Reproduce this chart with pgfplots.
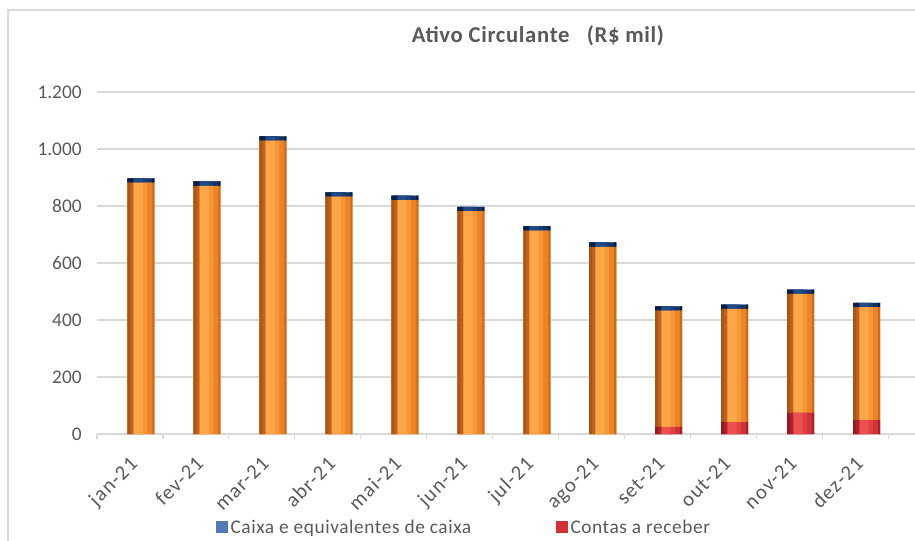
\documentclass[border=0pt]{standalone}
\usepackage{fontspec}
\setmainfont{Carlito}
\usepackage{pgfplots}
\usepackage{pgfplotstable}
\pgfplotsset{compat=1.18}

\definecolor{txt}{RGB}{89,89,89}
\definecolor{gridc}{RGB}{217,217,217}
\definecolor{orD}{RGB}{170,85,25}
\definecolor{orL}{RGB}{252,166,72}
\definecolor{orM}{RGB}{236,132,38}
\definecolor{rdD}{RGB}{150,25,35}
\definecolor{rdL}{RGB}{236,80,80}
\definecolor{rdM}{RGB}{210,48,52}
\definecolor{blD}{RGB}{10,30,70}
\definecolor{blL}{RGB}{40,90,160}
\definecolor{blM}{RGB}{20,50,100}

% mes, contas a receber, laranja (sem legenda), caixa
\pgfplotstableread{
x contas outros caixa
0  0  882 15
1  0  871 15
2  0 1029 15
3  0  833 15
4  0  821 15
5  0  782 15
6  0  714 15
7  0  657 15
8 25  408 15
9 42  397 15
10 75 417 15
11 49 396 15
}\dados

\pgfplotsset{
  base/.style={
    at={(0,0)}, anchor=south west,
    scale only axis,
    width=613.5pt, height=256.5pt,
    xmin=-0.5, xmax=11.9,
    ymin=0, ymax=1200,
    ybar stacked,
  },
}
% camada extra de cor para simular o cilindro
\newcommand\camada[5]{%
  \begin{axis}[base, hide axis, bar width=#1, bar shift=#2]
  \addplot[draw=none, fill=#3] table[x=x, y=contas] {\dados};
  \addplot[draw=none, fill=#4] table[x=x, y=outros] {\dados};
  \addplot[draw=none, fill=#5] table[x=x, y=caixa] {\dados};
  \end{axis}}

\begin{document}
\begin{tikzpicture}
\path[use as bounding box, x=0.75pt, y=0.75pt] (-97,-106) rectangle (818,434);
\begin{axis}[
    base,
    bar width=20.25pt,
    bar shift=8.25pt,
    axis lines*=left,
    axis line style={draw=none},
    ytick={0,200,...,1200},
    ymajorgrids,
    grid style={gridc, line width=0.8pt},
    xtick={0,...,11},
    xticklabels={jan-21,fev-21,mar-21,abr-21,mai-21,jun-21,jul-21,ago-21,set-21,out-21,nov-21,dez-21},
    minor xtick={-0.5,0.5,...,11.5},
    major tick length=0pt,
    minor tick length=4pt,
    tick align=outside,
    tick style={gridc, line width=0.8pt},
    ticklabel style={color=txt},
    yticklabel style={anchor=east, xshift=-8pt, font=\fontsize{14.5}{16}\selectfont},
    xticklabel style={rotate=45, anchor=north east, xshift=-8.5pt, yshift=-7pt,
        font=\fontsize{15.5}{17}\selectfont\addfontfeatures{LetterSpace=6}},
    /pgf/number format/1000 sep={.},
    /pgf/number format/assume math mode=true,
    title={Ativo Circulante\ \ \ (R\$ mil)},
    title style={at={(0.539,1)}, anchor=center, yshift=36.5pt,
        font=\bfseries\fontsize{17}{19}\selectfont\addfontfeatures{LetterSpace=3}, color=txt},
    legend columns=2,
    reverse legend,
    legend style={at={(0.145,-0.275)}, anchor=west, draw=none, fill=none,
        inner sep=0pt, text=txt,
        font=\fontsize{14.5}{16}\selectfont\addfontfeatures{LetterSpace=3},
        /tikz/every even column/.append style={column sep=61.5pt}},
    legend image code/.code={\fill[#1] (0pt,-3.5pt) rectangle (9pt,5.5pt);},
]
\addplot[draw=none, fill=rdM] table[x=x, y=contas] {\dados};
\addlegendentry{Contas a receber}
\addplot[draw=none, fill=orM, forget plot] table[x=x, y=outros] {\dados};
\addplot[draw=none, fill=blL!80!white] table[x=x, y=caixa] {\dados};
\addlegendentry{Caixa e equivalentes de caixa}
\draw[gridc, line width=0.8pt] (axis cs:-0.5,0) -- (axis cs:11.5,0);
\end{axis}
% faixas que imitam o sombreado do cilindro
\camada{20.25pt}{8.25pt}{rdM}{orM}{blM}
\camada{13pt}{6.5pt}{rdM!50!rdL}{orM!45!orL}{blM!70!blL}
\camada{6.5pt}{6.4pt}{rdL}{orL}{blM!40!blL}
\camada{2.6pt}{-0.6pt}{rdD}{orD}{blD}
\camada{2.2pt}{1.45pt}{rdD!60!rdM}{orD!70!orM}{blD}
\camada{1.5pt}{17.6pt}{rdD!70!rdM}{orD!55!orM}{blD}
\begin{scope}[x=0.75pt, y=0.75pt]
\draw[gridc, line width=0.8pt] (-89,-130) -- (-89,424) -- (840,424);
\end{scope}
\end{tikzpicture}
\end{document}
